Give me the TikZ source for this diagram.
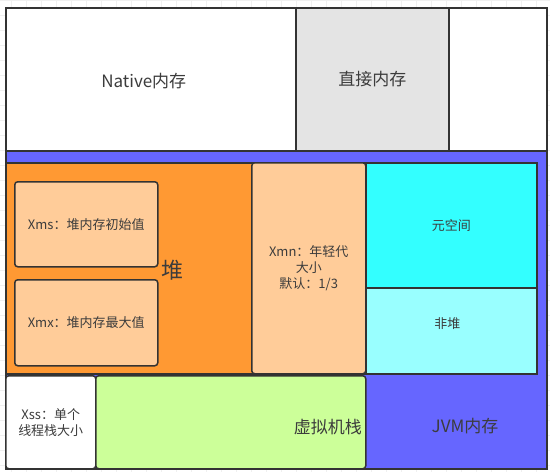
\documentclass[tikz,border=0pt]{standalone}
\usepackage{fontspec}
\setmainfont{Noto Sans CJK SC}
\usetikzlibrary{positioning, backgrounds}

\definecolor{edgegray}{HTML}{333333}
\definecolor{textgray}{HTML}{3C3C3C}
\definecolor{jvmblue}{HTML}{6666FF}
\definecolor{heaporange}{HTML}{FF9933}
\definecolor{peach}{HTML}{FFCC99}
\definecolor{metacyan}{HTML}{33FFFF}
\definecolor{paleCyan}{HTML}{99FFFF}
\definecolor{stackgreen}{HTML}{CCFF99}
\definecolor{directgray}{HTML}{E4E4E4}

\begin{document}
\begin{tikzpicture}[
    x=1pt, y=-1pt,
    every node/.style={align=center, text=textgray},
    area/.style={
        draw=edgegray, line width=1.5pt, anchor=north west, inner sep=0pt
    },
    softbox/.style={area, rounded corners=3pt},
    small/.style={font=\fontsize{13}{16}\selectfont},
    big/.style={font=\fontsize{17}{20}\selectfont},
    huge/.style={font=\fontsize{22}{26}\selectfont},
    gridline/.style={draw=gray!12, line width=0.5pt}
]

\useasboundingbox (0,0) rectangle (550,472);

% canvas grid
\fill[white] (0,0) rectangle (550,472);
\draw[gridline, xshift=11pt, step=15pt] (-11,0) grid (539,472);

% --------------------------------------------------------------------------
% Top row: native memory
% --------------------------------------------------------------------------
\node[area, fill=white, minimum width=290pt, minimum height=143pt,
      label={[big, xshift=-7pt, yshift=-2pt]center:Native内存}] (native) at (5,7) {};
\node[area, fill=directgray, big, minimum width=153pt, minimum height=143pt] (direct) at (295,7) {直接内存};
\node[area, fill=white, minimum width=98pt, minimum height=143pt] (spare) at (448,7) {};

% JVM memory block
\node[area, fill=jvmblue, minimum width=541pt, minimum height=318pt] (jvm) at (5,150) {};

% Heap and its settings.
\node[area, fill=heaporange, minimum width=360pt, minimum height=211pt] (heap) at (5,162) {};
\node[softbox, fill=peach, small, minimum width=143pt, minimum height=85pt] (xms) at (14,181) {Xms：堆内存初始值};
\node[softbox, fill=peach, small, minimum width=143pt, minimum height=86pt] (xmx) at (14,279) {Xmx：堆内存最大值};
\node[huge, anchor=west] (heaplabel) at (158,270) {堆};
\node[softbox, fill=peach, small, minimum width=114pt, minimum height=211pt] (xmn) at (251,162) {Xmn：年轻代\\大小\\默认：1/3};

% Non-heap
\node[area, fill=metacyan, small, minimum width=171pt, minimum height=125pt] (meta) at (365,162) {元空间};
\node[area, fill=paleCyan, minimum width=171pt, minimum height=86pt,
      label={[small, xshift=-4pt, yshift=7pt]center:非堆}] (nonheap) at (365,287) {};

% Bottom row: stacks
\node[softbox, fill=white, small, minimum width=90pt, minimum height=93pt] (xss) at (5,375) {Xss：单个\\线程栈大小};
\node[softbox, fill=stackgreen, minimum width=270pt, minimum height=93pt] (vmstack) at (95,375) {};
\node[big, left=1pt of vmstack.east, yshift=-4.5pt] (vmlabel) {虚拟机栈};
\node[big] (jvmlabel) at (465,426) {JVM内存};

\end{tikzpicture}
\end{document}
